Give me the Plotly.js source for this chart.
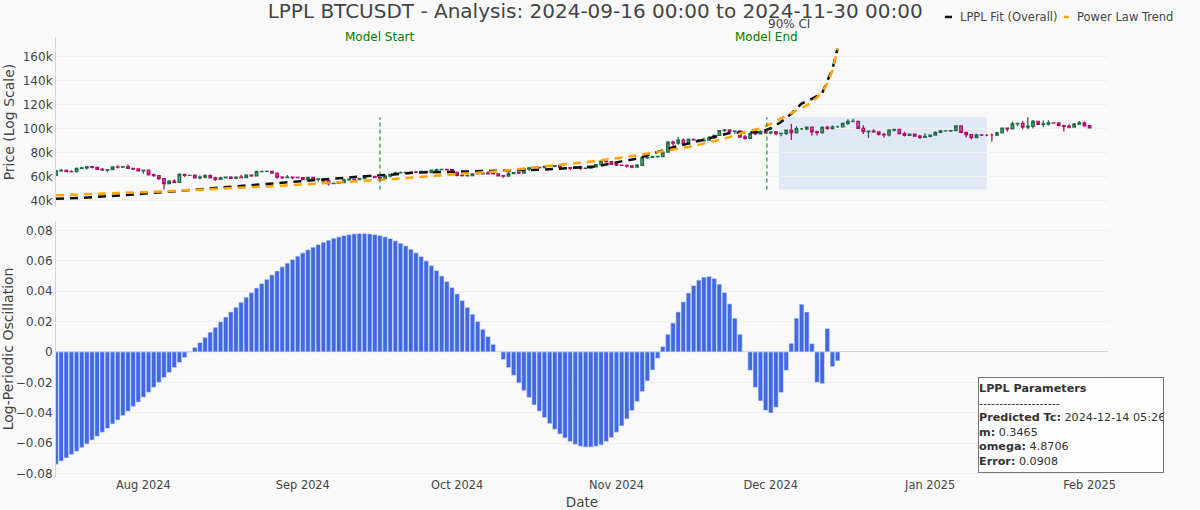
<!DOCTYPE html>
<html>
<head>
<meta charset="utf-8">
<title>LPPL BTCUSDT</title>
<script src="https://cdn.plot.ly/plotly-3.0.1.min.js"></script>
<style>
html,body{margin:0;padding:0;background:#f9f9f9;}
#chart{width:1200px;height:510px;}
</style>
</head>
<body>
<div id="chart"></div>
<script>
// daily candles, 2024-07-15 to 2025-02-01
const closes=[64724,65043,64087,63987,66660,67139,68165,67532,65936,65372,65777,67912,67813,68255,66819,66201,64619,65357,61415,60680,58116,53991,56034,55027,61710,60880,60945,58719,59354,60609,58739,57560,58874,59491,58439,59494,59034,61159,60381,64037,64157,64220,62834,59415,59034,59359,59123,58973,57301,59132,57487,57970,56160,53962,54160,54869,57042,57650,57343,58127,60571,60005,59182,58192,60308,61649,62940,63192,63348,63578,63339,64262,63152,65173,65769,65858,65602,63327,60805,60649,60752,62086,62058,62820,62224,62131,60582,60274,62445,63193,62851,66046,67041,67612,67400,68428,68378,69031,67378,67426,66668,68198,66698,67010,67929,69907,72720,72339,70215,69482,69289,68741,67811,69359,75639,75904,76539,76688,80370,88648,87952,90375,87325,91066,90558,89845,90464,92310,94286,98317,98892,97672,97900,93010,91965,95863,95643,97460,96407,97185,95840,96000,98768,96600,99920,99923,101236,97400,96600,101100,100000,101400,101400,104400,106060,106100,100200,97460,97800,97300,95200,94900,98700,99300,95800,94300,95300,93700,92800,93600,94600,96900,98100,98200,98300,102200,96900,95000,92500,94700,94500,94500,94500,96500,100500,99900,104000,104400,101300,102000,106100,103600,103900,104800,104700,102600,102000,101300,103700,104700,102400,100600];
const opens=[60800,64724,65043,64087,63987,66660,67139,68165,67532,65936,65372,65777,67912,67813,68255,66819,66201,64619,65357,61415,60680,58116,53991,56034,55027,61710,60880,60945,58719,59354,60609,58739,57560,58874,59491,58439,59494,59034,61159,60381,64037,64157,64220,62834,59415,59034,59359,59123,58973,57301,59132,57487,57970,56160,53962,54160,54869,57042,57650,57343,58127,60571,60005,59182,58192,60308,61649,62940,63192,63348,63578,63339,64262,63152,65173,65769,65858,65602,63327,60805,60649,60752,62086,62058,62820,62224,62131,60582,60274,62445,63193,62851,66046,67041,67612,67400,68428,68378,69031,67378,67426,66668,68198,66698,67010,67929,69907,72720,72339,70215,69482,69289,68741,67811,69359,75639,75904,76539,76688,80370,88648,87952,90375,87325,91066,90558,89845,90464,92310,94286,98317,98892,97672,97900,93010,91965,95863,95643,97460,96407,97185,95840,96000,98768,96600,99920,99923,101236,97400,96600,101100,100000,101400,101400,104400,106060,106100,100200,97460,97800,97300,95200,94900,98700,99300,95800,94300,95300,93700,92800,93600,94600,96900,98100,98200,98300,102200,96900,95000,92500,94700,94500,94500,94500,96500,100500,99900,104000,104400,101300,102000,106100,103600,103900,104800,104700,102600,102000,101300,103700,104700,102400];
const highs=[64900,66128,65750,65100,67400,67800,68366,68480,67800,67100,66100,68300,69400,68300,70079,66900,66800,65600,65600,62200,61100,58300,57000,57700,62700,61700,61400,61800,60700,61800,61600,59800,59800,59700,60200,59600,61400,61800,61400,64950,64500,65000,64500,63200,60200,61200,59900,59450,59000,59800,59800,58500,58300,57000,54900,55300,58100,58000,58000,58600,60700,60650,60400,59200,61300,61800,63850,64100,63550,63950,64700,64700,64800,65800,66500,66250,66000,65700,64100,62400,61500,62500,62400,63000,64500,63200,62500,61300,63400,63500,63300,66500,67900,68400,67900,68950,68700,69400,69500,67800,67500,68800,69000,67300,68200,70300,73620,72900,72700,71600,69900,69400,69000,70500,76400,76900,77300,76800,81500,89500,89950,93265,91800,91850,91800,91100,92600,93900,94900,98950,99800,98800,98600,98900,94700,97300,96600,98700,97800,97800,98100,96300,99000,104000,102000,100500,101400,101400,98300,101900,102500,102600,102600,105200,107800,108350,106500,102800,98200,99500,97400,96400,99500,99900,99950,97400,95700,95400,94900,96100,95000,97800,98900,98700,98800,102700,102700,97200,95300,95800,95000,95300,95900,97300,100700,100900,105900,104900,106300,109600,107200,106300,106800,107100,105300,105400,103200,103700,104800,106400,106000,102800];
const lows=[60632,63854,63900,63200,63300,66500,65777,66573,65400,65100,63400,65700,66700,67000,66500,65300,64500,62300,61200,59800,57100,49000,53900,54500,54700,59500,60300,58300,57700,58500,58400,56100,57000,58800,58400,57900,58600,58800,59800,60300,63600,63800,62800,58000,57850,58700,57700,58700,57200,57100,57400,55500,55600,52500,53700,53600,54600,56400,55500,57300,57600,59500,58700,57500,57600,59200,61600,62350,62750,62400,62700,62700,62700,62700,64800,65400,65400,62900,60200,59900,59800,60500,61700,61800,62100,61800,60300,58900,60400,62400,62000,62400,64800,66700,66700,67200,68100,68100,66600,66600,65300,66500,65100,66700,66800,67500,69700,71400,69700,68800,69000,67500,66800,67500,69300,74500,75500,75700,76500,80200,85000,86600,86700,87100,90100,88700,89300,89900,91500,94100,97200,97100,95800,92600,90800,91800,94600,95300,95700,95400,94500,93600,94700,90500,95800,98900,98700,94100,94200,95700,99300,99200,100600,101200,103300,105300,100000,95600,92100,96400,94200,92400,93400,97600,95100,93400,94100,93000,91300,92500,92700,94200,96100,97500,97200,97900,96100,92500,91200,92200,93800,93700,89200,94300,96500,97300,99900,102300,99500,99400,100100,103300,101200,102700,104100,102500,97700,100300,101000,103300,101500,100300];

const lpplDates=['2024-07-15','2024-07-20','2024-07-28','2024-08-05','2024-08-18','2024-08-28','2024-09-03','2024-09-11','2024-09-16','2024-09-18','2024-09-23','2024-09-28','2024-10-03','2024-10-09','2024-10-13','2024-10-18','2024-10-23','2024-10-28','2024-11-02','2024-11-05','2024-11-11','2024-11-19','2024-11-23','2024-11-29','2024-12-01','2024-12-03','2024-12-05','2024-12-07','2024-12-09','2024-12-11','2024-12-12','2024-12-13','2024-12-14'];
const lpplFit=[41400,42100,44200,47000,51700,54600,56700,59500,61000,61300,63200,63700,63700,64300,65100,65700,67000,68400,72600,74900,83200,91600,96300,97200,100300,105500,112500,121000,125000,129800,140000,150000,167000];
const powerDates=['2024-07-15','2024-08-05','2024-08-28','2024-09-16','2024-09-18','2024-09-28','2024-10-09','2024-10-18','2024-10-28','2024-11-05','2024-11-10','2024-11-15','2024-11-22','2024-11-26','2024-11-29','2024-12-01','2024-12-05','2024-12-08','2024-12-10','2024-12-11','2024-12-12','2024-12-13','2024-12-14'];
const powerLaw=[44200,47500,52300,57300,57600,61000,64300,68400,72900,77600,81000,84600,91600,97200,100200,104000,113000,119500,126000,130500,138000,148800,167000];

const oscillation=[-0.074,-0.0718,-0.0698,-0.0676,-0.0654,-0.063,-0.0606,-0.058,-0.0555,-0.0529,-0.0503,-0.0474,-0.0448,-0.0419,-0.039,-0.036,-0.033,-0.0298,-0.0266,-0.0233,-0.02,-0.0169,-0.0136,-0.0103,-0.007,-0.0037,-0.0002,0.003,0.0062,0.0096,0.013,0.0162,0.0198,0.023,0.0263,0.0294,0.0327,0.036,0.039,0.0421,0.045,0.0478,0.0507,0.0533,0.056,0.0584,0.0608,0.063,0.0652,0.0672,0.0689,0.0707,0.0722,0.0735,0.0748,0.0757,0.0766,0.0772,0.0777,0.0779,0.0779,0.0777,0.0772,0.0766,0.0757,0.0746,0.0731,0.0715,0.0698,0.0676,0.0652,0.0628,0.0599,0.0568,0.0535,0.05,0.0463,0.0424,0.0382,0.0338,0.0294,0.0248,0.02,0.0149,0.0101,0.005,0,-0.005,-0.0103,-0.0154,-0.0204,-0.0255,-0.03,-0.0349,-0.039,-0.0432,-0.0472,-0.0509,-0.054,-0.0566,-0.059,-0.0608,-0.0621,-0.0626,-0.0626,-0.0621,-0.0612,-0.059,-0.0564,-0.0529,-0.0487,-0.0441,-0.0386,-0.0327,-0.0261,-0.0191,-0.0119,-0.0042,0.0035,0.0116,0.0191,0.0263,0.0329,0.0388,0.0437,0.0472,0.0492,0.0496,0.0483,0.0446,0.0391,0.0316,0.0222,0.0116,0,-0.0121,-0.0233,-0.0323,-0.0384,-0.0402,-0.0364,-0.0268,-0.0121,0.0057,0.0222,0.0314,0.0263,0.0055,-0.02,-0.0209,0.0154,-0.0097,-0.0059];

const modelStart='2024-09-16', modelEnd='2024-11-30 06:00';
const ciStart='2024-12-02 14:00', ciEnd='2025-01-12 00:00';
const ciLabelAt='2024-12-04 12:00';
const ciLow=49000, ciHigh=109600;
const paramLines=['<b>LPPL Parameters</b>','--------------------','<b>Predicted Tc:</b> 2024-12-14 05:26','<b>m:</b> 0.3465','<b>omega:</b> 4.8706','<b>Error:</b> 0.0908'];

function dayList(start,n){
  var out=[];
  var t=Date.parse(start+'T00:00:00Z');
  for(var i=0;i<n;i++)out.push(new Date(t+i*86400000).toISOString().slice(0,10));
  return out;
}
const candleDates=dayList('2024-07-15',closes.length);
const barDates=dayList('2024-07-15',oscillation.length);

const FONT='"Comic Sans MS","DejaVu Sans",sans-serif';
const GRID='#f0f0f0';
const BLACK='#111111', ORANGE='#ffa500';

var traces=[
 {type:'candlestick',x:candleDates,open:opens,high:highs,low:lows,close:closes,xaxis:'x',yaxis:'y',showlegend:false,
  increasing:{line:{color:'#1f6b45',width:1.3},fillcolor:'#5fa37e'},
  decreasing:{line:{color:'#ad1068',width:1.3},fillcolor:'#d76fa6'}},
 {type:'scatter',mode:'lines',name:'LPPL Fit (Overall)',x:lpplDates,y:lpplFit,xaxis:'x',yaxis:'y',showlegend:false,
  line:{color:BLACK,width:2.5,dash:'8px,6px'}},
 {type:'scatter',mode:'lines',name:'Power Law Trend',x:powerDates,y:powerLaw,xaxis:'x',yaxis:'y',showlegend:false,
  line:{color:ORANGE,width:2.5,dash:'8px,6px'}},
 {type:'bar',x:barDates,y:oscillation,xaxis:'x2',yaxis:'y2',showlegend:false,
  marker:{color:'#4169e1',line:{color:'#dfe6fa',width:0.6}}}
];

var xrange=['2024-07-15','2025-02-04 14:00'];
// legend keys sit closer than plotly's own legend allows, so placed by hand
function legendKey(x0,x1,color){
  return {type:'line',xref:'paper',yref:'paper',x0:x0,x1:x1,y0:1.0455,y1:1.0455,line:{color:color,width:2.5}};
}
function legendText(x,text){
  return {xref:'paper',yref:'paper',x:x,y:1.0455,xanchor:'left',yanchor:'middle',showarrow:false,text:text,font:{size:11.5,color:'#444'}};
}
var layout={
 width:1200,height:510,
 margin:{l:56,r:92,t:37,b:33,autoexpand:false},
 paper_bgcolor:'#f9f9f9',plot_bgcolor:'#f9f9f9',
 font:{family:FONT,size:12,color:'#444'},
 title:{text:'LPPL BTCUSDT - Analysis: 2024-09-16 00:00 to 2024-11-30 00:00',font:{family:FONT,size:20,color:'#444'},x:0.496,xanchor:'center',y:0.978,yanchor:'middle'},
 showlegend:false,
 bargap:0.1,
 xaxis:{domain:[0,1],range:xrange,anchor:'y',matches:'x2',showticklabels:false,showgrid:false,zeroline:false,rangeslider:{visible:false},type:'date'},
 yaxis:{domain:[0.6136,1],range:[34400,176700],dtick:20000,tick0:0,tickformat:'~s',gridcolor:GRID,zeroline:false,showline:true,linecolor:'#d4d4d4',
  title:{text:'Price (Log Scale)',font:{size:14},standoff:4}},
 xaxis2:{domain:[0,1],range:xrange,anchor:'y2',type:'date',dtick:'M1',tick0:'2024-08-01',tickformat:'%b %Y',tickfont:{size:11.4},showgrid:false,zeroline:false,
  title:{text:'Date',font:{size:13.5},standoff:10}},
 yaxis2:{domain:[0,0.582],range:[-0.0823,0.0862],dtick:0.02,gridcolor:GRID,zeroline:true,zerolinecolor:'#d0d0d0',zerolinewidth:1,showline:true,linecolor:'#d4d4d4',
  title:{text:'Log-Periodic Oscillation',font:{size:14},standoff:4}},
 shapes:[
  {type:'rect',xref:'x',yref:'y',x0:ciStart,x1:ciEnd,y0:ciLow,y1:ciHigh,fillcolor:'rgba(65,120,225,0.13)',line:{width:0},layer:'below'},
  {type:'line',xref:'x',yref:'y',x0:modelStart,x1:modelStart,y0:ciLow,y1:ciHigh,line:{color:'green',width:1,dash:'4px,3px'}},
  {type:'line',xref:'x',yref:'y',x0:modelEnd,x1:modelEnd,y0:ciLow,y1:ciHigh,line:{color:'green',width:1,dash:'4px,3px'}},
  legendKey(0.8450,0.8517,BLACK),
  legendKey(0.9582,0.9630,ORANGE)
 ],
 annotations:[
  {xref:'x',yref:'paper',x:modelStart,y:1,yanchor:'middle',showarrow:false,text:'Model Start',font:{color:'green',size:12}},
  {xref:'x',yref:'paper',x:modelEnd,y:1,yanchor:'middle',showarrow:false,text:'Model End',font:{color:'green',size:12}},
  {xref:'x',yref:'paper',x:ciLabelAt,y:1.03,yanchor:'middle',showarrow:false,text:'90% CI',font:{color:'#444',size:12}},
  legendText(0.8570,'LPPL Fit (Overall)'),
  legendText(0.9686,'Power Law Trend'),
  {xref:'paper',yref:'paper',x:1.0530,y:0.0098,xanchor:'right',yanchor:'bottom',showarrow:false,align:'left',
   text:paramLines.join('<br>'),font:{size:11.2,color:'#333'},bgcolor:'rgba(255,255,255,0.85)',bordercolor:'#777',borderwidth:1,borderpad:0,width:184,height:94}
 ]
};
Plotly.newPlot('chart',traces,layout,{displayModeBar:false});
</script>
</body>
</html>
